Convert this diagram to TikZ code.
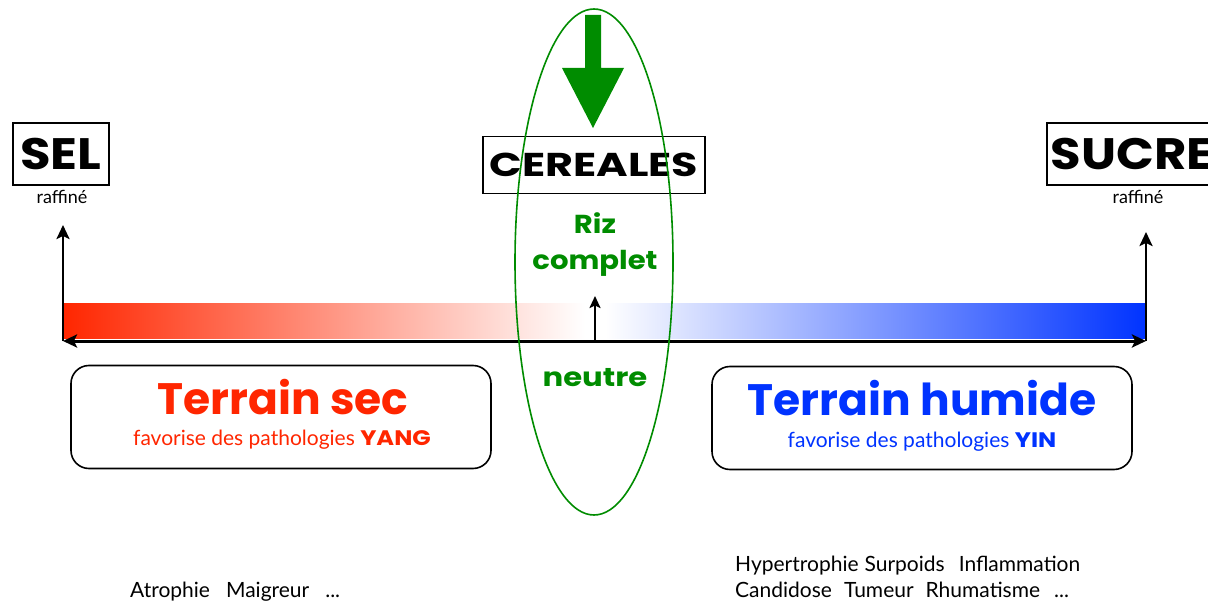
\documentclass[tikz,border=0pt]{standalone}
\usepackage{fontspec}
\usepackage{graphicx}
\setmainfont{Lato}
\newfontfamily\heavy{Poppins}
\newcommand\hwiden[2]{\scalebox{#1}[1]{#2}}
\usetikzlibrary{arrows.meta,shapes.geometric}
\definecolor{myred}{RGB}{255,38,0}
\definecolor{myblue}{RGB}{0,51,255}
\definecolor{mygreen}{RGB}{0,140,0}
\begin{document}
\begin{tikzpicture}[x=1pt,y=-1pt,
  labelbox/.style={draw, line width=1.6pt, inner sep=0pt, font=\heavy\fontsize{44}{44}\selectfont\bfseries},
  small/.style={inner sep=0pt, font=\fontsize{18}{20}\selectfont},
  terrain/.style={draw, line width=1.6pt, rounded corners=18pt, minimum width=420, minimum height=103, inner sep=0pt},
  axisarrow/.style={line width=2.5pt, -{Stealth[length=14pt,width=13pt,inset=3pt]}},
  greentxt/.style={text=mygreen, inner sep=0pt, font=\heavy\fontsize{26}{36}\selectfont\bfseries, align=center},
  bottom/.style={inner sep=0pt, anchor=base west, font=\fontsize{21}{26}\selectfont, align=left}]
\clip (0,0) rectangle (1208,602);
\fill[white] (0,0) rectangle (1208,602);
% gradient bar
\shade[left color=myred, right color=white] (63,303) rectangle (585,338);
\shade[left color=white, right color=myblue] (605,303) rectangle (1146,338);
% top boxes
\node[labelbox, minimum width=96, minimum height=62] (sel) at (61,154) {\hwiden{1.13}{SEL}};
\node[small, anchor=base] (raf1) at (62,203) {raffiné};
\node[labelbox, minimum width=170, minimum height=62] (sucre) at (1132,154) {\hwiden{1.13}{SUCRE}};
\node[small, anchor=base] (raf2) at (1138,203) {raffiné};
\node[draw, line width=1.2pt, inner sep=0pt, minimum width=222, minimum height=57, font=\heavy\fontsize{33}{33}\selectfont\bfseries] (cer) at (594,165) {\hwiden{1.3}{CEREALES}};
% axis
\coordinate (L) at (63,341);
\coordinate (R) at (1146,341);
\coordinate (Ltop) at (63,225);
\coordinate (Rtop) at (1146,232);
\coordinate (Mb) at (595,341);
\coordinate (Mt) at (595,296);
\draw[line width=3pt, {Stealth[length=14pt,width=13pt,inset=3pt]}-{Stealth[length=14pt,width=13pt,inset=3pt]}] (L) -- (R);
\draw[axisarrow] (L) -- (Ltop);
\draw[axisarrow] (R) -- (Rtop);
\draw[line width=2.2pt, -{Stealth[length=12pt,width=11pt,inset=2.5pt]}] (Mb) -- (Mt);
% green texts
\node[greentxt] (riz) at (595,245) {\hwiden{1.12}{Riz}\\\hwiden{1.12}{complet}};
\node[greentxt, anchor=base] (neutre) at (595,386) {\hwiden{1.18}{neutre}};
% terrain boxes
\node[terrain] (sec) at (281,417) {};
\node[text=myred, font=\heavy\fontsize{44}{44}\selectfont\bfseries, anchor=base, inner sep=0pt] (sect) at (283,414) {Terrain sec};
\node[text=myred, font=\fontsize{21}{21}\selectfont, anchor=base, inner sep=0pt] (secs) at (282,445) {favorise des pathologies {\heavy\bfseries\hwiden{1.15}{YANG}}};
\node[terrain] (hum) at (922,418) {};
\node[text=myblue, font=\heavy\fontsize{44}{44}\selectfont\bfseries, anchor=base, inner sep=0pt] (humt) at (922,415) {Terrain humide};
\node[text=myblue, font=\fontsize{21}{21}\selectfont, anchor=base, inner sep=0pt] (hums) at (922,447) {favorise des pathologies {\heavy\bfseries\hwiden{1.15}{YIN}}};
% green ellipse and arrow
\draw[mygreen, line width=1.6pt] (594,262) ellipse [x radius=79, y radius=253];
\fill[mygreen] (585,15) -- (601,15) -- (601,68) -- (624,68) -- (593,128) -- (562,68) -- (585,68) -- cycle;
% bottom lists
\node[bottom] (yang) at (130,597) {Atrophie\hspace{16pt}Maigreur\hspace{16pt}...};
\node[bottom] (yin1) at (735,571) {Hypertrophie\hspace{6pt}Surpoids\hspace{14pt}Inflammation};
\node[bottom] (yin2) at (735,597) {Candidose\hspace{12pt}Tumeur\hspace{12pt}Rhumatisme\hspace{14pt}...};
\end{tikzpicture}
\end{document}
